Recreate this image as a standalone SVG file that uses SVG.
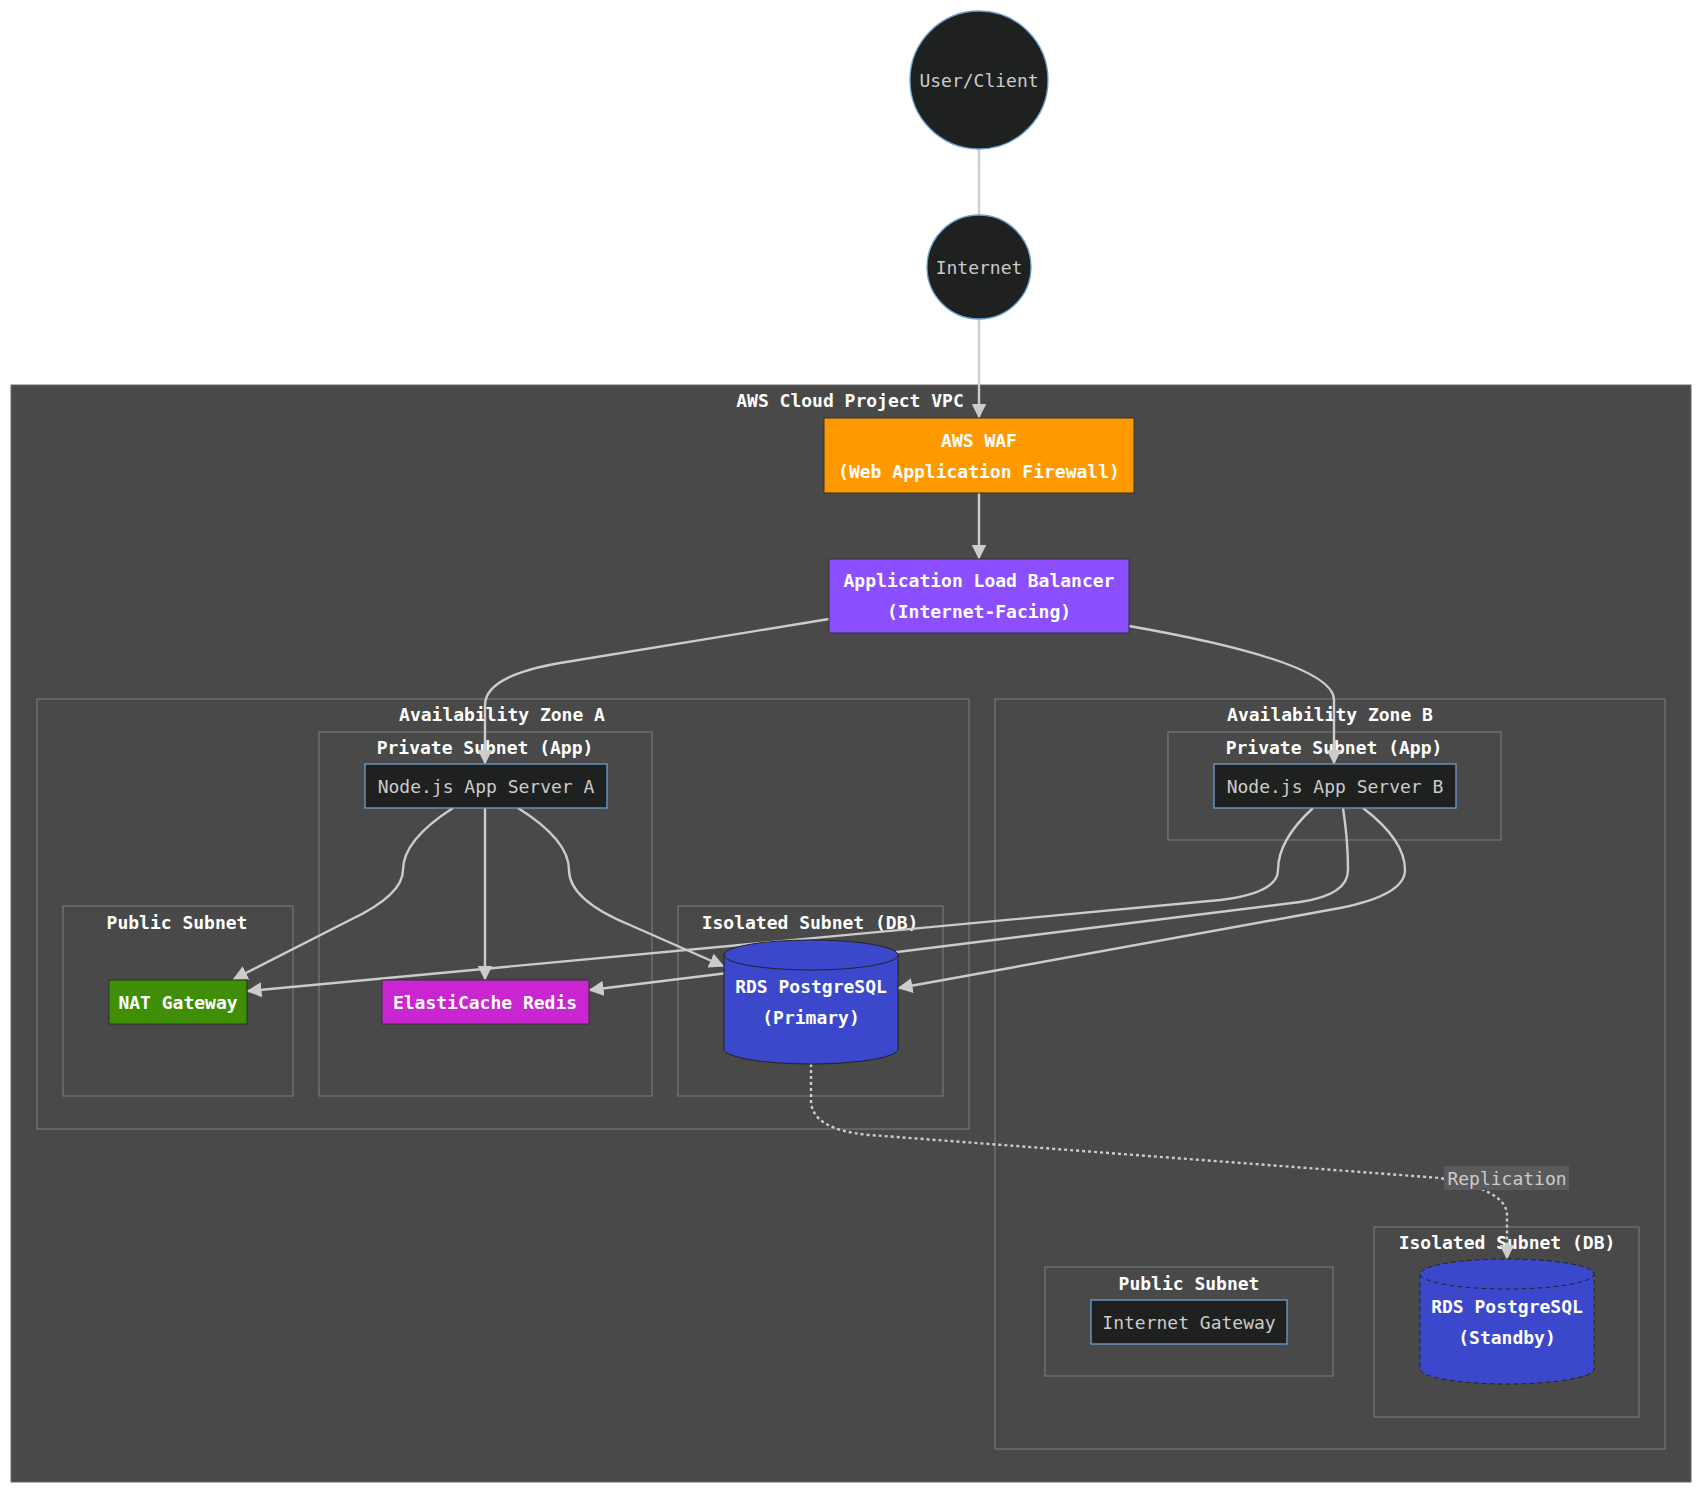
<svg xmlns="http://www.w3.org/2000/svg" width="1702" height="1494" viewBox="0 0 1702 1494">
<style>
text{font-family:"DejaVu Sans Mono","Liberation Mono",monospace;font-size:18px;text-anchor:middle;dominant-baseline:central}
.t{fill:#fff;font-weight:bold}
.l{fill:#ccc}
.sub{fill:none;stroke:#777;stroke-width:1.2}
.dark{fill:#1f2020;stroke:#6a9fd0;stroke-width:1.3}
.e{fill:none;stroke:#ccc;stroke-width:2.4}
</style>
<defs>
<marker id="a" viewBox="0 0 10 10" refX="9" refY="5" markerWidth="15" markerHeight="15" markerUnits="userSpaceOnUse" orient="auto"><path d="M0,0L10,5L0,10z" fill="#ccc"/></marker>
</defs>
<rect width="1702" height="1494" fill="#fff"/>
<g id="vpc"><rect x="11" y="385" width="1680" height="1097" fill="#484948" stroke="#666"/><text class="t" x="850" y="400">AWS Cloud Project VPC</text></g>
<g id="azA"><rect class="sub" x="37" y="699" width="932" height="430"/><text class="t" x="502" y="714">Availability Zone A</text></g>
<g id="azB"><rect class="sub" x="995" y="699" width="670" height="750"/><text class="t" x="1330" y="714">Availability Zone B</text></g>
<g id="privA"><rect class="sub" x="319" y="732" width="333" height="364"/><text class="t" x="485" y="747">Private Subnet (App)</text></g>
<g id="pubA"><rect class="sub" x="63" y="906" width="230" height="190"/><text class="t" x="177" y="922">Public Subnet</text></g>
<g id="isoA"><rect class="sub" x="678" y="906" width="265" height="190"/><text class="t" x="810" y="922">Isolated Subnet (DB)</text></g>
<g id="privB"><rect class="sub" x="1168" y="732" width="333" height="108"/><text class="t" x="1334" y="747">Private Subnet (App)</text></g>
<g id="pubB"><rect class="sub" x="1045" y="1267" width="288" height="109"/><text class="t" x="1189" y="1283">Public Subnet</text></g>
<g id="isoB"><rect class="sub" x="1374" y="1227" width="265" height="190"/><text class="t" x="1507" y="1242">Isolated Subnet (DB)</text></g>

<g id="edges">
<line class="e" x1="979" y1="149" x2="979" y2="215"/>
<line class="e" x1="979" y1="319" x2="979" y2="417" marker-end="url(#a)"/>
<line class="e" x1="979" y1="493" x2="979" y2="558" marker-end="url(#a)"/>
<path class="e" d="M829,619 L560,663 Q485,676 485,705 L485,763" marker-end="url(#a)"/>
<path class="e" d="M1129,626 Q1334,662 1334,700 L1334,763" marker-end="url(#a)"/>
<path class="e" d="M453,808 Q403,840 403,870 Q403,895 350,920 L234,979" marker-end="url(#a)"/>
<path class="e" d="M485,808 L485,979" marker-end="url(#a)"/>
<path class="e" d="M518,808 Q569,840 569,870 Q569,900 630,925 L723,966" marker-end="url(#a)"/>
<path class="e" d="M1313,808 Q1278,840 1278,870 Q1278,893 1220,900 L248,991" marker-end="url(#a)"/>
<path class="e" d="M1343,808 Q1348,840 1348,870 Q1348,895 1300,902 L590,990" marker-end="url(#a)"/>
<path class="e" d="M1363,808 Q1405,840 1405,870 Q1405,895 1340,908 L899,988" marker-end="url(#a)"/>
<path class="e" d="M811,1064 L811,1100 Q811,1130 870,1135 L1440,1178 Q1507,1190 1507,1215 L1507,1258" stroke-dasharray="3,3" marker-end="url(#a)"/>
<rect x="1444" y="1166" width="125" height="24" fill="#5a5a5a"/>
<text class="l" x="1507" y="1178">Replication</text>
</g>

<g id="user"><circle class="dark" cx="979" cy="80" r="69"/><text class="l" x="979" y="80">User/Client</text></g>
<g id="internet"><circle class="dark" cx="979" cy="267" r="52"/><text class="l" x="979" y="267">Internet</text></g>
<g id="waf"><rect x="824" y="418" width="310" height="75" fill="#ff9900" stroke="#333"/><text class="t" x="979" y="440">AWS WAF</text><text class="t" x="979" y="471">(Web Application Firewall)</text></g>
<g id="alb"><rect x="829" y="559" width="300" height="74" fill="#8c4fff" stroke="#333"/><text class="t" x="979" y="580">Application Load Balancer</text><text class="t" x="979" y="611">(Internet-Facing)</text></g>
<g id="serverA"><rect class="dark" x="365" y="764" width="242" height="44"/><text class="l" x="486" y="786">Node.js App Server A</text></g>
<g id="serverB"><rect class="dark" x="1214" y="764" width="242" height="44"/><text class="l" x="1335" y="786">Node.js App Server B</text></g>
<g id="nat"><rect x="109" y="980" width="138" height="44" fill="#3f8f06" stroke="#1f3a1f"/><text class="t" x="178" y="1002">NAT Gateway</text></g>
<g id="redis"><rect x="382" y="980" width="207" height="44" fill="#c925d1" stroke="#333"/><text class="t" x="485" y="1002">ElastiCache Redis</text></g>
<g id="rdsA"><path d="M724,955 L724,1049 A87,15 0 0 0 898,1049 L898,955 A87,15 0 0 0 724,955 A87,15 0 0 0 898,955" fill="#3b48cc" stroke="#222"/><text class="t" x="811" y="986">RDS PostgreSQL</text><text class="t" x="811" y="1017">(Primary)</text></g>
<g id="rdsB"><path d="M1420,1274 L1420,1369 A87,15 0 0 0 1594,1369 L1594,1274 A87,15 0 0 0 1420,1274 A87,15 0 0 0 1594,1274" fill="#3b48cc" stroke="#222" stroke-dasharray="5,3"/><text class="t" x="1507" y="1306">RDS PostgreSQL</text><text class="t" x="1507" y="1337">(Standby)</text></g>
<g id="igw"><rect class="dark" x="1091" y="1300" width="196" height="44"/><text class="l" x="1189" y="1322">Internet Gateway</text></g>
</svg>
